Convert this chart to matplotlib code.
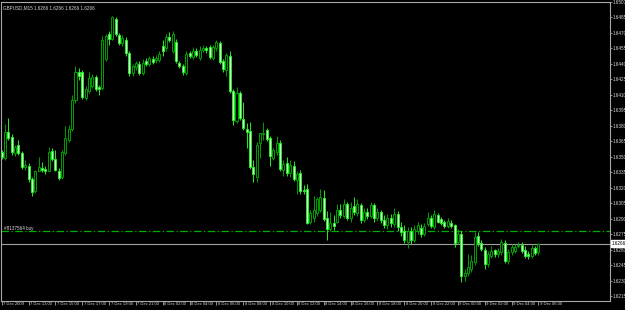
import numpy as np
import matplotlib
matplotlib.use("Agg")
import matplotlib.pyplot as plt
import matplotlib.transforms as mtransforms

plt.rcParams["font.family"] = ["Liberation Sans Narrow", "Liberation Sans", "DejaVu Sans"]

# ======================
# DATA  (GBPUSD M15, one candle per bar)
# ======================
opens = [
    1.6355, 1.6349, 1.6374, 1.6369, 1.6354, 1.6362, 1.6354, 1.6340, 1.6341, 1.6329,
    1.6317, 1.6336, 1.6339, 1.6338, 1.6336, 1.6356, 1.6348, 1.6336, 1.6331, 1.6354,
    1.6366, 1.6377, 1.6405, 1.6432, 1.6432, 1.6407, 1.6414, 1.6419, 1.6427, 1.6418,
    1.6417, 1.6445, 1.6469, 1.6464, 1.6484, 1.6468, 1.6460, 1.6463, 1.6451, 1.6431,
    1.6437, 1.6440, 1.6431, 1.6443, 1.6440, 1.6445, 1.6444, 1.6444, 1.6457, 1.6455,
    1.6466, 1.6453, 1.6461, 1.6441, 1.6438, 1.6431, 1.6451, 1.6447, 1.6453, 1.6446,
    1.6454, 1.6455, 1.6456, 1.6446, 1.6455, 1.6460, 1.6443, 1.6434, 1.6448, 1.6414,
    1.6385, 1.6412, 1.6387, 1.6377, 1.6375, 1.6340, 1.6331, 1.6363, 1.6372, 1.6376,
    1.6368, 1.6349, 1.6355, 1.6363, 1.6337, 1.6344, 1.6334, 1.6341, 1.6328, 1.6334,
    1.6318, 1.6319, 1.6287, 1.6291, 1.6296, 1.6299, 1.6310, 1.6291, 1.6280, 1.6286,
    1.6287, 1.6299, 1.6293, 1.6304, 1.6291, 1.6302, 1.6296, 1.6303, 1.6289, 1.6297,
    1.6293, 1.6303, 1.6291, 1.6297, 1.6289, 1.6284, 1.6291, 1.6285, 1.6295, 1.6282,
    1.6278, 1.6268, 1.6278, 1.6270, 1.6278, 1.6281, 1.6275, 1.6285, 1.6291, 1.6282,
    1.6294, 1.6290, 1.6287, 1.6283, 1.6286, 1.6284, 1.6268, 1.6275, 1.6235, 1.6238,
    1.6241, 1.6248, 1.6273, 1.6267, 1.6260, 1.6246, 1.6254, 1.6260, 1.6256, 1.6258,
    1.6267, 1.6249, 1.6258, 1.6259, 1.6264, 1.6265, 1.6260, 1.6256, 1.6254, 1.6262,
    1.6258,
]
highs = [
    1.6357, 1.6382, 1.6388, 1.6372, 1.6362, 1.6366, 1.6356, 1.6347, 1.6344, 1.6331,
    1.6337, 1.6350, 1.6345, 1.6341, 1.6360, 1.6359, 1.6357, 1.6339, 1.6357, 1.6380,
    1.6381, 1.6410, 1.6438, 1.6436, 1.6434, 1.6419, 1.6432, 1.6430, 1.6429, 1.6420,
    1.6467, 1.6469, 1.6472, 1.6486, 1.6485, 1.6470, 1.6468, 1.6466, 1.6453, 1.6440,
    1.6443, 1.6443, 1.6445, 1.6446, 1.6448, 1.6448, 1.6449, 1.6453, 1.6463, 1.6469,
    1.6471, 1.6472, 1.6464, 1.6443, 1.6440, 1.6453, 1.6453, 1.6456, 1.6455, 1.6457,
    1.6458, 1.6457, 1.6458, 1.6458, 1.6463, 1.6462, 1.6445, 1.6451, 1.6453, 1.6416,
    1.6418, 1.6414, 1.6403, 1.6383, 1.6384, 1.6347, 1.6364, 1.6373, 1.6384, 1.6378,
    1.6370, 1.6359, 1.6370, 1.6366, 1.6347, 1.6350, 1.6347, 1.6346, 1.6336, 1.6337,
    1.6323, 1.6324, 1.6299, 1.6312, 1.6311, 1.6319, 1.6318, 1.6298, 1.6297, 1.6294,
    1.6304, 1.6304, 1.6309, 1.6306, 1.6306, 1.6311, 1.6309, 1.6305, 1.6301, 1.6301,
    1.6306, 1.6305, 1.6301, 1.6299, 1.6294, 1.6295, 1.6295, 1.6301, 1.6298, 1.6287,
    1.6284, 1.6282, 1.6282, 1.6284, 1.6287, 1.6285, 1.6286, 1.6297, 1.6294, 1.6299,
    1.6296, 1.6292, 1.6289, 1.6291, 1.6289, 1.6285, 1.6280, 1.6278, 1.6241, 1.6256,
    1.6255, 1.6277, 1.6277, 1.6270, 1.6263, 1.6259, 1.6264, 1.6261, 1.6262, 1.6271,
    1.6270, 1.6261, 1.6266, 1.6266, 1.6268, 1.6268, 1.6264, 1.6259, 1.6266, 1.6264,
    1.6267,
]
lows = [
    1.6348, 1.6347, 1.6366, 1.6352, 1.6351, 1.6352, 1.6338, 1.6337, 1.6326, 1.6312,
    1.6315, 1.6336, 1.6335, 1.6333, 1.6336, 1.6346, 1.6336, 1.6328, 1.6329, 1.6352,
    1.6364, 1.6375, 1.6402, 1.6424, 1.6406, 1.6405, 1.6412, 1.6417, 1.6414, 1.6410,
    1.6415, 1.6443, 1.6458, 1.6463, 1.6467, 1.6458, 1.6457, 1.6448, 1.6428, 1.6428,
    1.6434, 1.6429, 1.6429, 1.6438, 1.6438, 1.6440, 1.6441, 1.6442, 1.6448, 1.6453,
    1.6461, 1.6451, 1.6441, 1.6436, 1.6429, 1.6429, 1.6446, 1.6445, 1.6447, 1.6444,
    1.6452, 1.6451, 1.6445, 1.6444, 1.6453, 1.6440, 1.6432, 1.6428, 1.6412, 1.6381,
    1.6383, 1.6386, 1.6376, 1.6359, 1.6338, 1.6326, 1.6326, 1.6349, 1.6366, 1.6365,
    1.6341, 1.6347, 1.6352, 1.6336, 1.6332, 1.6332, 1.6331, 1.6327, 1.6314, 1.6314,
    1.6314, 1.6285, 1.6285, 1.6287, 1.6293, 1.6297, 1.6288, 1.6270, 1.6278, 1.6279,
    1.6286, 1.6291, 1.6291, 1.6289, 1.6287, 1.6294, 1.6293, 1.6286, 1.6287, 1.6290,
    1.6291, 1.6287, 1.6288, 1.6286, 1.6281, 1.6280, 1.6282, 1.6282, 1.6278, 1.6273,
    1.6267, 1.6262, 1.6266, 1.6268, 1.6275, 1.6272, 1.6273, 1.6283, 1.6281, 1.6280,
    1.6286, 1.6284, 1.6281, 1.6281, 1.6281, 1.6263, 1.6266, 1.6229, 1.6230, 1.6235,
    1.6239, 1.6245, 1.6264, 1.6259, 1.6241, 1.6243, 1.6252, 1.6253, 1.6253, 1.6255,
    1.6247, 1.6246, 1.6255, 1.6257, 1.6262, 1.6257, 1.6252, 1.6251, 1.6252, 1.6255,
    1.6255,
]
closes = [
    1.6350, 1.6374, 1.6368, 1.6355, 1.6360, 1.6354, 1.6340, 1.6342, 1.6329, 1.6316,
    1.6336, 1.6340, 1.6337, 1.6336, 1.6355, 1.6348, 1.6337, 1.6330, 1.6355, 1.6368,
    1.6377, 1.6405, 1.6432, 1.6428, 1.6408, 1.6416, 1.6426, 1.6427, 1.6416, 1.6416,
    1.6463, 1.6467, 1.6464, 1.6485, 1.6469, 1.6460, 1.6465, 1.6451, 1.6431, 1.6438,
    1.6441, 1.6431, 1.6441, 1.6440, 1.6446, 1.6442, 1.6446, 1.6450, 1.6453, 1.6466,
    1.6463, 1.6469, 1.6443, 1.6438, 1.6432, 1.6450, 1.6448, 1.6453, 1.6449, 1.6454,
    1.6455, 1.6454, 1.6447, 1.6456, 1.6461, 1.6442, 1.6435, 1.6449, 1.6414, 1.6386,
    1.6412, 1.6388, 1.6378, 1.6374, 1.6340, 1.6333, 1.6362, 1.6373, 1.6373, 1.6367,
    1.6351, 1.6357, 1.6363, 1.6338, 1.6343, 1.6334, 1.6342, 1.6329, 1.6333, 1.6317,
    1.6317, 1.6286, 1.6296, 1.6299, 1.6309, 1.6311, 1.6290, 1.6280, 1.6286, 1.6283,
    1.6299, 1.6294, 1.6304, 1.6291, 1.6301, 1.6297, 1.6304, 1.6289, 1.6297, 1.6293,
    1.6303, 1.6291, 1.6297, 1.6289, 1.6284, 1.6291, 1.6286, 1.6295, 1.6282, 1.6277,
    1.6270, 1.6278, 1.6270, 1.6280, 1.6284, 1.6275, 1.6283, 1.6291, 1.6283, 1.6295,
    1.6287, 1.6286, 1.6283, 1.6288, 1.6283, 1.6267, 1.6275, 1.6235, 1.6238, 1.6243,
    1.6249, 1.6272, 1.6267, 1.6261, 1.6246, 1.6256, 1.6259, 1.6256, 1.6259, 1.6268,
    1.6249, 1.6258, 1.6263, 1.6263, 1.6265, 1.6259, 1.6254, 1.6254, 1.6262, 1.6257,
    1.6266,
]
time_labels = [
    "7 Dec 2009", "7 Dec 13:00", "7 Dec 15:00", "7 Dec 17:00", "7 Dec 19:00",
    "7 Dec 21:00", "8 Dec 02:00", "8 Dec 04:00", "8 Dec 06:00", "8 Dec 08:00",
    "8 Dec 10:00", "8 Dec 12:00", "8 Dec 14:00", "8 Dec 16:00", "8 Dec 18:00",
    "8 Dec 20:00", "8 Dec 22:00", "9 Dec 00:00", "9 Dec 02:00", "9 Dec 04:00",
    "9 Dec 06:00",
]
price_ticks = [1.6215 + 0.0015 * k for k in range(20)]
bid_price = 1.6266
order_price = 1.6278
order_label = "#8137564 buy"
title_text = "GBPUSD,M15 1.6266 1.6266 1.6266 1.6266"

# ======================
# COLOURS
# ======================
BG = "#000000"
FRAME = "#a8a8a8"
TEXT = "#d8d8d8"
BULL_EDGE = "#00a000"
BEAR_EDGE = "#20f020"
BEAR_FILL = "#d8ffd8"
FS = 3.3

# ======================
# FIGURE
# ======================
W, H = 625, 310
fig = plt.figure(figsize=(W / 100, H / 100), dpi=100, facecolor=BG)
ax = fig.add_axes([1.5 / W, 9 / H, 608 / W, 299 / H])
ax.set_facecolor(BG)

o = np.array(opens)
h = np.array(highs)
l = np.array(lows)
c = np.array(closes)
x = np.arange(len(c))
up = c >= o

# wicks
ax.vlines(x[up], l[up], h[up], color=BULL_EDGE, lw=0.7, zorder=2)
ax.vlines(x[~up], l[~up], h[~up], color=BEAR_EDGE, lw=0.7, zorder=2)

# bodies
bw = 0.6
ax.bar(x[up], c[up] - o[up], bottom=o[up], width=bw, facecolor=BG,
       edgecolor=BULL_EDGE, lw=0.7, zorder=3)
ax.bar(x[~up], c[~up] - o[~up], bottom=o[~up], width=bw, facecolor=BEAR_FILL,
       edgecolor=BEAR_EDGE, lw=0.7, zorder=3)

# order line + bid line
ax.axhline(order_price, color="#00b000", lw=0.9, ls=(0, (6, 2, 1, 2)), zorder=1)
ax.text(0.8, order_price + 0.00003, order_label, fontsize=FS, color=TEXT,
        va="bottom", ha="left", zorder=4)
ax.axhline(bid_price, color="#a0a0a0", lw=0.8, zorder=1)

ax.set_xlim(-0.06, 181.2)
ax.set_ylim(1.62105, 1.64994)

# ======================
# AXES / TICKS
# ======================
for s in ax.spines.values():
    s.set_color(FRAME)
    s.set_linewidth(0.8)

ax.yaxis.tick_right()
ax.set_yticks(price_ticks)
ax.set_yticklabels([f"{p:.4f}" for p in price_ticks])
ax.tick_params(axis="y", colors=FRAME, labelcolor=TEXT, labelsize=FS,
               length=1.5, width=0.6, pad=0.5, direction="out")

ax.set_xticks(np.arange(0, len(c), 8))
ax.set_xticklabels(time_labels, ha="left")
ax.tick_params(axis="x", colors=FRAME, labelcolor=TEXT, labelsize=3.0,
               length=3, width=0.6, pad=-2.0, direction="out")
offset = mtransforms.ScaledTranslation(1.5 / 100, 0, fig.dpi_scale_trans)
for lab in ax.get_xticklabels():
    lab.set_transform(lab.get_transform() + offset)

# bid price box on the right scale
trans = mtransforms.blended_transform_factory(ax.transAxes, ax.transData)
ax.text(1.003, bid_price, f"{bid_price:.4f}", transform=trans, fontsize=FS,
        color="black", va="center", ha="left", clip_on=False, zorder=5,
        bbox=dict(boxstyle="square,pad=0.15", fc="white", ec="white"))

# title
ax.text(0.003, 0.99, title_text, transform=ax.transAxes, fontsize=FS,
        color=TEXT, va="top", ha="left")

fig.savefig("out.png", dpi=100, facecolor=BG)
